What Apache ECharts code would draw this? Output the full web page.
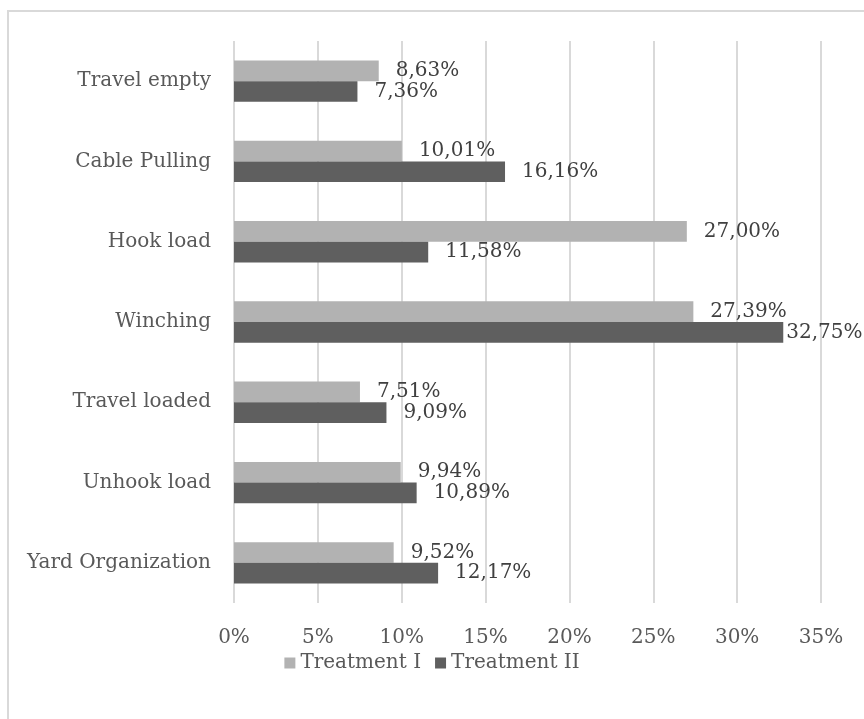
<!DOCTYPE html>
<html>
<head>
<meta charset="utf-8">
<script src="https://cdn.jsdelivr.net/npm/echarts@6/dist/echarts.min.js"></script>
<style>
html,body{margin:0;padding:0;background:#fff;}
#chart{width:864px;height:719px;}
</style>
</head>
<body>
<div id="chart"></div>
<script>
// categories listed bottom to top
var categories = ['Yard Organization', 'Unhook load', 'Travel loaded', 'Winching', 'Hook load', 'Cable Pulling', 'Travel empty'];
var treatment1 = [9.52, 9.94, 7.51, 27.39, 27.00, 10.01, 8.63];
var treatment2 = [12.17, 10.89, 9.09, 32.75, 11.58, 16.16, 7.36];
var seriesNames = ['Treatment I', 'Treatment II'];
var xTicks = [0, 5, 10, 15, 20, 25, 30, 35];

var FONT = 'DejaVu Serif';
function fmt(v) { return v.toFixed(2).replace('.', ',') + '%'; }
var xMax = xTicks[xTicks.length - 1];

function buildData(arr) {
  return arr.map(function (v) {
    // labels near the right edge are pulled in, as in the original
    if (v > 31) return { value: v, label: { distance: 3 } };
    return v;
  });
}

var chart = echarts.init(document.getElementById('chart'));
chart.setOption({
  animation: false,
  backgroundColor: '#fff',
  graphic: [
    { type: 'line', shape: { x1: 8, y1: 11, x2: 8, y2: 719 }, style: { stroke: '#d9d9d9', lineWidth: 2 } },
    { type: 'line', shape: { x1: 7, y1: 11, x2: 864, y2: 11 }, style: { stroke: '#d9d9d9', lineWidth: 2 } }
  ],
  grid: { left: 234, right: 43, top: 41, bottom: 116, containLabel: false },
  legend: {
    data: seriesNames,
    left: 'center',
    top: 648,
    itemWidth: 11,
    itemHeight: 11,
    itemGap: 14,
    icon: 'rect',
    textStyle: { fontFamily: FONT, fontSize: 20, color: '#595959' }
  },
  xAxis: {
    type: 'value',
    min: 0,
    max: xMax,
    interval: 5,
    axisLine: { show: false },
    axisTick: { show: false },
    splitLine: { show: true, lineStyle: { color: '#d9d9d9', width: 2 } },
    axisLabel: {
      formatter: '{value}%',
      fontFamily: FONT, fontSize: 20, color: '#595959', margin: 25
    }
  },
  yAxis: {
    type: 'category',
    data: categories,
    axisLine: { show: false },
    axisTick: { show: false },
    splitLine: { show: false },
    axisLabel: { fontFamily: FONT, fontSize: 20, color: '#595959', margin: 23 }
  },
  series: [
    {
      name: seriesNames[0],
      type: 'bar',
      data: buildData(treatment1),
      barGap: '0%',
      barCategoryGap: '48.5%',
      itemStyle: { color: '#b2b2b2' },
      label: {
        show: true, position: 'right', distance: 17,
        fontFamily: FONT, fontSize: 20, color: '#404040',
        formatter: function (p) { return fmt(p.value); }
      }
    },
    {
      name: seriesNames[1],
      type: 'bar',
      data: buildData(treatment2),
      barGap: '0%',
      barCategoryGap: '48.5%',
      itemStyle: { color: '#5f5f5f' },
      label: {
        show: true, position: 'right', distance: 17,
        fontFamily: FONT, fontSize: 20, color: '#404040',
        formatter: function (p) { return fmt(p.value); }
      }
    }
  ]
});
</script>
</body>
</html>
